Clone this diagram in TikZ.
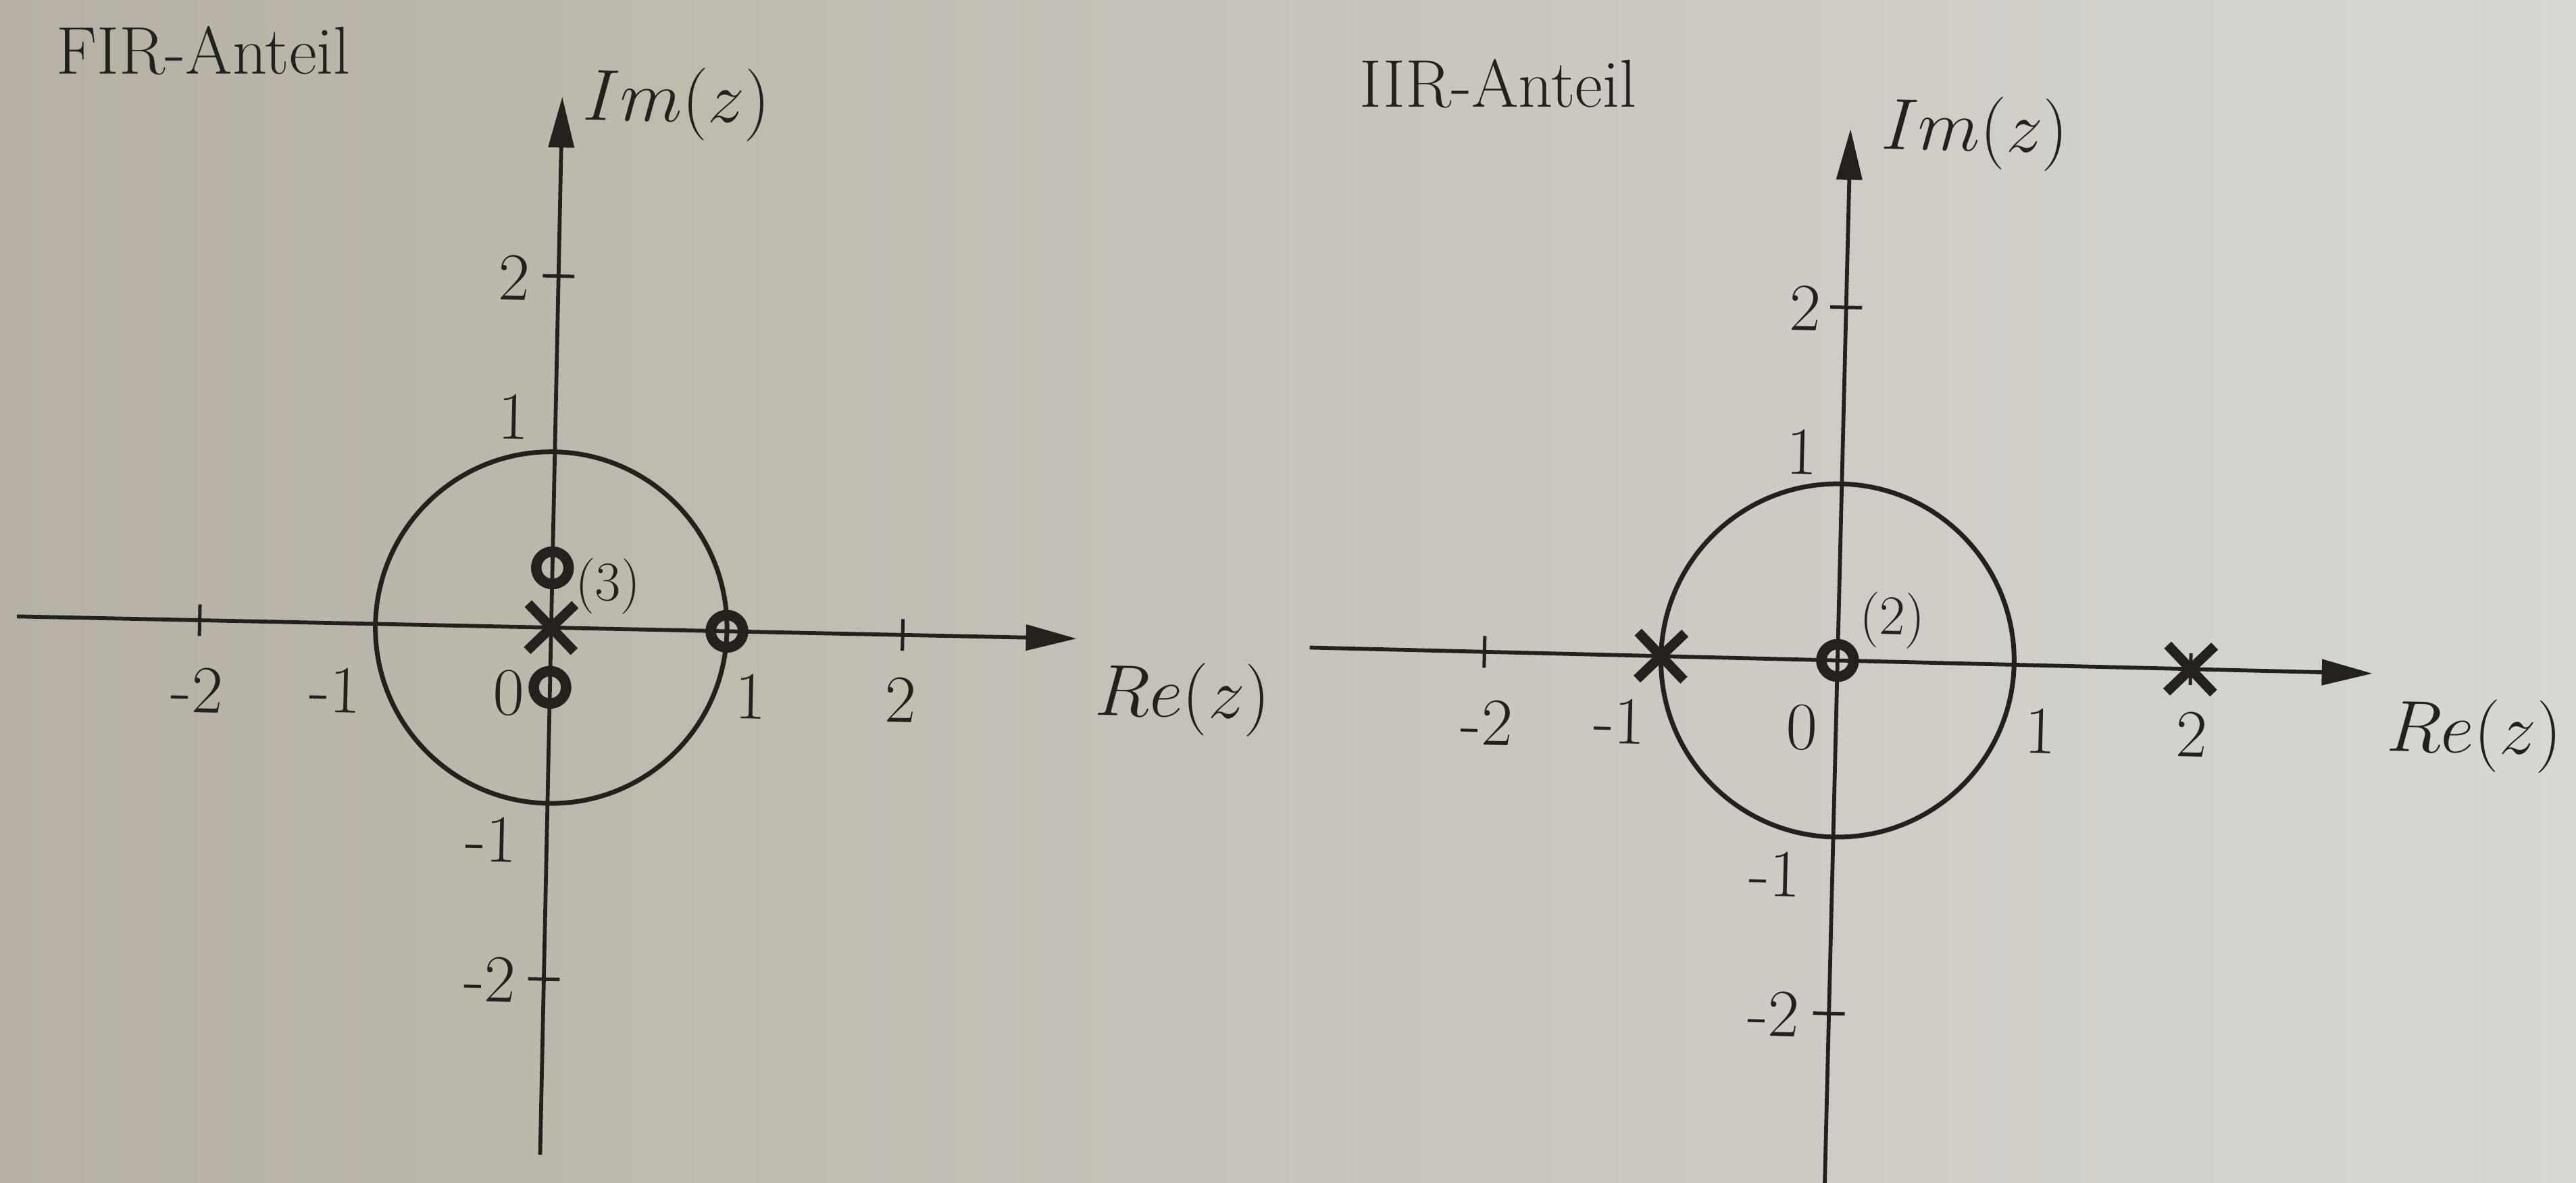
\RequirePackage{fix-cm}
\documentclass[tikz,border=0pt]{standalone}
\usetikzlibrary{arrows.meta,shapes.misc}
\definecolor{ink}{RGB}{36,33,29}
\definecolor{paperL}{RGB}{182,176,164}
\definecolor{paperM}{RGB}{199,196,188}
\definecolor{paperR}{RGB}{216,215,210}
\tikzset{
 axisline/.style={draw=ink, line width=1.15pt, -{Triangle[length=15pt,width=7.5pt]}},
 unitcircle/.style={draw=ink, line width=1.4pt},
 tickmark/.style={draw=ink, line width=1pt},
 zeromark/.style={circle, draw=ink, line width=3.1pt, minimum size=9.6pt, inner sep=0pt},
 polemark/.style={cross out, draw=ink, line width=2.9pt, minimum size=11pt, inner sep=0pt},
 numlabel/.style={text=ink, inner sep=0pt, font=\fontsize{20pt}{24pt}\selectfont},
 axlabel/.style={text=ink, inner sep=0pt, font=\fontsize{21.5pt}{26pt}\selectfont},
 multlabel/.style={text=ink, inner sep=0pt, font=\fontsize{16.5pt}{20pt}\selectfont},
 titlelabel/.style={text=ink, inner sep=0pt, font=\fontsize{20pt}{24pt}\selectfont, anchor=base west},
}
\begin{document}
\begin{tikzpicture}[x=0.48635pt, y=0.48635pt]
\useasboundingbox (0,0) rectangle (1568,720);
\fill[left color=paperL, middle color=paperM, right color=paperR] (0,0) rectangle (1568,720);
\clip (0,0) rectangle (1568,720);

% titles
\node[titlelabel] (firtitle) at (34,675) {FIR-Anteil};
\node[titlelabel] (iirtitle) at (827,655) {IIR-Anteil};

% ---------------- left plot: FIR ----------------
\begin{scope}[shift={(335.5,338)}, rotate=-1.2, x=52.04pt, y=52.04pt, transform shape]
  \coordinate (Lxl) at (-3.04,0);
  \coordinate (Lxr) at (2.99,0);
  \coordinate (Lyb) at (0,-3.0);
  \coordinate (Lyt) at (0,3.02);
  \draw[axisline] (Lxl) -- (Lxr);
  \draw[axisline] (Lyb) -- (Lyt);
  \draw[unitcircle] (0,0) circle[radius=1];
  \draw[tickmark] (-2,-0.09) -- (-2,0.09);
  \draw[tickmark] (2,-0.09) -- (2,0.09);
  \draw[tickmark] (-0.09,2) -- (0.09,2);
  \draw[tickmark] (-0.09,-2) -- (0.09,-2);
  % markers
  \node[zeromark] (Lzu) at (0,0.34) {};
  \node[polemark] (Lp) at (0,0) {};
  \node[zeromark] (Lzd) at (0,-0.34) {};
  \node[zeromark] (Lzone) at (1,0) {};
  \node[multlabel] (Lmult) at (0.317,0.241) {(3)};
  % labels
  \node[numlabel] (Lxm2) at (-2.007,-0.397) {-2};
  \node[numlabel] (Lxm1) at (-1.222,-0.381) {-1};
  \node[numlabel] (Lx0) at (-0.235,-0.379) {0};
  \node[numlabel] (Lx1) at (1.144,-0.369) {1};
  \node[numlabel] (Lx2) at (1.995,-0.369) {2};
  \node[axlabel] (Lre) at (3.60,-0.33) {$Re(z)$};
  \node[numlabel] (Ly2) at (-0.252,1.987) {2};
  \node[numlabel] (Ly1) at (-0.240,1.196) {1};
  \node[numlabel] (Lym1) at (-0.316,-1.213) {-1};
  \node[numlabel] (Lym2) at (-0.308,-2.007) {-2};
  \node[axlabel] (Lim) at (0.652,2.996) {$Im(z)$};
\end{scope}

% ---------------- right plot: IIR ----------------
\begin{scope}[shift={(1118.5,318)}, rotate=-1.4, x=52.28pt, y=52.28pt, transform shape]
  \coordinate (Rxl) at (-2.99,0);
  \coordinate (Rxr) at (3.03,0);
  \coordinate (Ryb) at (0,-3.2);
  \coordinate (Ryt) at (0,3.01);
  \draw[axisline] (Rxl) -- (Rxr);
  \draw[axisline] (Ryb) -- (Ryt);
  \draw[unitcircle] (0,0) circle[radius=1];
  \draw[tickmark] (-2,-0.09) -- (-2,0.09);
  \draw[tickmark] (2,-0.09) -- (2,0.09);
  \draw[tickmark] (-0.09,2) -- (0.09,2);
  \draw[tickmark] (-0.09,-2) -- (0.09,-2);
  % markers
  \node[polemark] (Rpm1) at (-1,0) {};
  \node[polemark] (Rp2) at (2,0) {};
  \node[zeromark] (Rz0) at (0,0) {};
  \node[multlabel] (Rmult) at (0.306,0.235) {(2)};
  % labels
  \node[numlabel] (Rxm2) at (-1.977,-0.402) {-2};
  \node[numlabel] (Rxm1) at (-1.225,-0.374) {-1};
  \node[numlabel] (Rx0) at (-0.191,-0.386) {0};
  \node[numlabel] (Rx1) at (1.159,-0.372) {1};
  \node[numlabel] (Rx2) at (2.015,-0.370) {2};
  \node[axlabel] (Rre) at (3.615,-0.335) {$Re(z)$};
  \node[numlabel] (Ry2) at (-0.230,1.990) {2};
  \node[numlabel] (Ry1) at (-0.229,1.176) {1};
  \node[numlabel] (Rym1) at (-0.324,-1.218) {-1};
  \node[numlabel] (Rym2) at (-0.313,-2.009) {-2};
  \node[axlabel] (Rim) at (0.704,3.005) {$Im(z)$};
\end{scope}
\end{tikzpicture}
\end{document}
